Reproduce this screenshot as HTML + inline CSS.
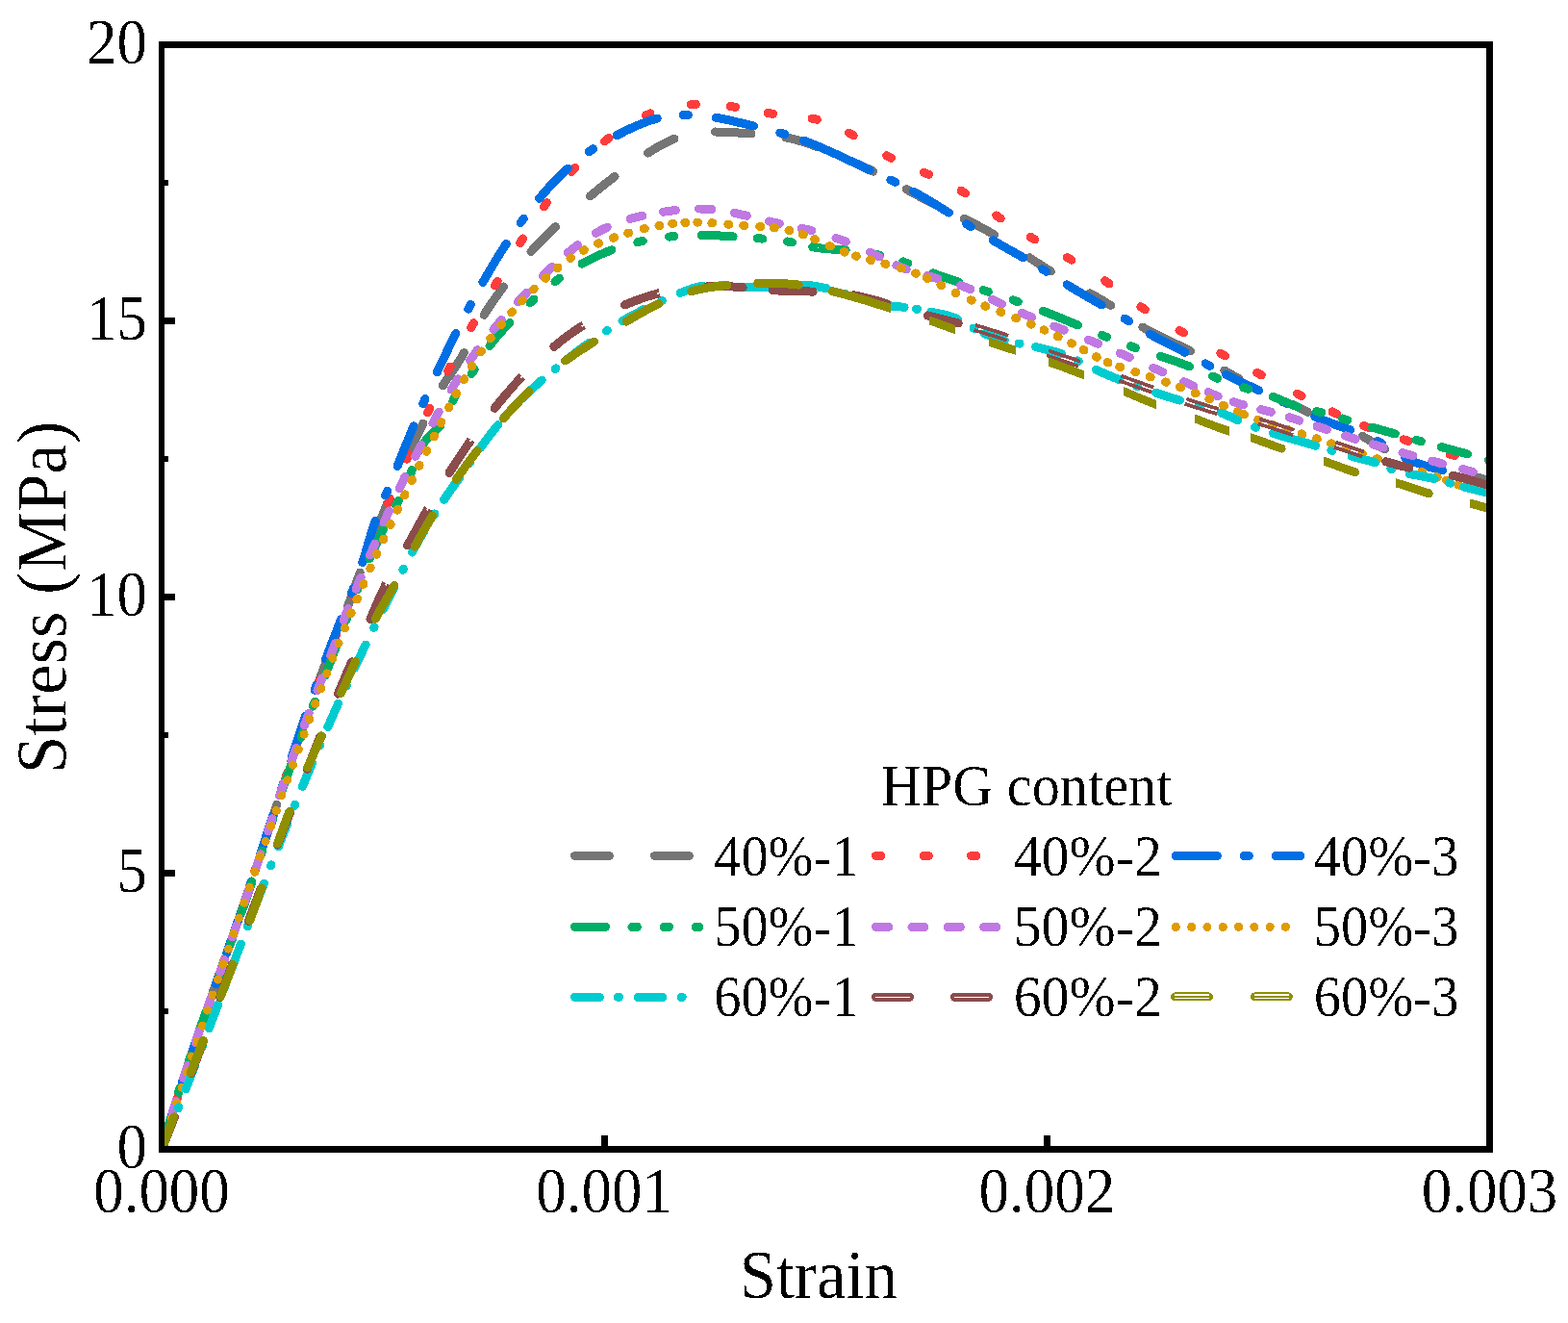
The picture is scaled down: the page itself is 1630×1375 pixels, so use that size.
<!DOCTYPE html>
<html lang="en">
<head>
<meta charset="utf-8">
<title>Stress-strain curves by HPG content</title>
<style>
html,body{margin:0;padding:0;background:#fff;}
body{width:1630px;height:1375px;overflow:hidden;}
svg{display:block;}
svg text{font-family:"Liberation Serif", serif;fill:#000;}
</style>
</head>
<body>
<svg width="1630" height="1375" viewBox="0 0 1630 1375">
<rect width="1630" height="1375" fill="#fff"/>
<clipPath id="plot"><rect x="168" y="46" width="1377.00" height="1148.00"/></clipPath>
<g clip-path="url(#plot)" fill="none" stroke-linecap="round" stroke-linejoin="round" shape-rendering="crispEdges">
<path d="M168.2 1194.5L169.9 1188.6L171.6 1182.7L173.3 1176.8L175.1 1170.8L176.9 1165.0L178.7 1159.1M193.3 1113.1L195.2 1107.3L197.2 1101.4L199.1 1095.6L201.1 1089.7L203.1 1083.9L205.1 1078.1M220.9 1032.5L222.9 1026.7L225.0 1020.9L227.0 1015.1L229.1 1009.3L231.1 1003.5L233.2 997.7M249.1 952.1L251.1 946.3L253.1 940.5L255.1 934.7L257.1 928.8L259.1 923.0L261.1 917.2M276.3 871.4L278.2 865.6L280.2 859.7L282.1 853.9L284.0 848.0L285.9 842.2L287.8 836.3M302.9 790.5L304.9 784.7L306.9 778.8L308.8 773.0L310.8 767.1L312.8 761.3L314.8 755.5M330.8 710.0L332.9 704.2L335.1 698.4L337.2 692.7L339.4 686.9L341.6 681.2L343.8 675.4M361.4 630.5L363.6 624.6L365.8 618.7L367.9 612.8L370.0 606.8L372.1 600.9L374.2 595.0M389.1 556.8L391.4 551.0L393.7 545.3L396.1 539.6L398.4 533.8L400.7 528.1L403.0 522.4M424.2 471.7L426.7 466.3L429.2 461.0L431.9 455.8L434.6 450.6L437.3 445.3L439.9 440.1M460.3 400.8L463.4 395.9L466.7 391.1L470.0 386.3L473.2 381.5L476.4 376.6L479.5 371.7L482.4 366.6M503.2 327.3L506.3 322.3L509.6 317.3L513.0 312.4L516.4 307.6L519.9 302.8L523.4 298.0M552.0 261.5L556.0 257.1L560.2 252.7L564.4 248.4L568.7 244.1L573.0 239.9L577.4 235.7M613.5 203.8L618.6 199.7L623.7 195.5L628.8 191.4L633.9 187.4L639.1 183.4M673.5 159.1L678.8 155.8L684.2 152.5L689.7 149.5L695.3 146.7L701.0 144.2M743.6 137.0L749.9 137.1L756.1 137.3L762.4 137.6L768.6 138.1L774.8 138.5L781.0 139.0M816.9 142.9L822.6 144.1L828.3 145.5L833.9 147.2L839.5 149.0L844.9 150.9L850.4 153.0M878.1 164.6L884.0 167.2L890.0 169.8L896.0 172.5L901.9 175.2L907.7 178.1M942.4 196.7L947.8 199.8L953.2 202.7L958.7 205.7L964.2 208.6L969.8 211.4L975.3 214.2M1002.1 227.2L1007.4 229.9L1012.7 232.6L1018.0 235.3L1023.2 238.1L1028.4 241.0L1033.6 244.0M1070.3 267.8L1075.7 271.4L1081.2 275.0L1086.7 278.5L1092.3 282.0M1133.1 304.8L1138.6 307.9L1144.0 311.0L1149.3 314.2L1154.6 317.5M1187.9 340.1L1193.3 343.1L1198.7 346.1L1204.3 348.9L1209.8 351.6L1215.4 354.2L1221.0 356.9L1226.6 359.5L1232.2 362.2L1237.7 365.0M1272.8 385.0L1277.7 387.9L1282.7 390.7L1287.6 393.5M1344.5 420.7L1349.5 423.2L1354.5 425.8L1359.5 428.4M1416.1 453.2L1420.8 455.9L1425.4 458.6L1430.1 461.4L1434.8 464.1L1439.5 466.7M1535.6 496.0L1541.6 497.7L1547.6 499.5L1553.6 501.3L1559.6 503.0" stroke="#757575" stroke-width="9.0"/>
<path d="M168.2 1194.5L169.7 1189.3M182.9 1145.9L184.6 1140.7M198.7 1097.6L200.4 1092.4M215.1 1049.5L216.9 1044.3M231.9 1001.5L233.7 996.4M248.6 953.5L250.4 948.4M264.9 905.4L266.7 900.2M280.9 857.2L282.6 852.0M296.8 808.9L298.5 803.7M313.1 760.8L314.9 755.6M329.9 712.8L331.8 707.7M347.4 665.1L349.3 660.0M365.4 617.6L367.4 612.5M384.0 570.3L386.0 565.2M403.3 523.2L405.3 518.3M422.8 477.2L424.9 472.4M444.6 429.0L446.9 424.2M465.7 385.7L468.1 381.0M489.8 340.5L492.4 335.8M514.5 296.9L517.1 292.3M540.7 252.5L543.5 248.0M565.3 214.9L568.4 210.6M594.0 178.4L597.6 174.5M628.5 146.8L632.8 143.6M671.2 120.0L676.0 117.9M718.1 108.7L723.4 108.4M759.3 110.5L764.6 111.3M798.2 117.6L803.5 118.3M844.2 123.1L849.3 124.3M882.6 138.2L887.2 140.8M921.8 161.7L926.5 164.2M960.6 179.3L965.5 181.4M999.1 198.2L1003.6 201.0M1035.7 224.0L1040.1 227.0M1071.2 246.3L1075.8 249.0M1109.3 267.6L1113.9 270.2M1148.6 291.8L1153.0 294.9M1185.9 318.7L1190.3 321.7M1226.0 343.4L1230.6 346.0M1268.8 367.2L1273.4 369.8M1306.7 387.5L1311.3 389.9M1348.4 409.1L1353.1 411.6M1385.0 427.9L1389.8 430.2M1417.8 442.6L1422.8 444.5M1459.1 456.8L1464.2 458.4M1507.1 472.0L1512.2 473.5" stroke="#FF3C3C" stroke-width="9.0"/>
<path d="M168.2 1194.5L169.9 1188.4L171.7 1182.3L173.5 1176.2L175.3 1170.1L177.1 1164.0L179.0 1157.9L180.9 1151.8M189.6 1124.3L191.3 1119.1M200.3 1092.0L202.4 1086.0L204.4 1079.9L206.5 1073.9L208.6 1067.9L210.7 1061.9L212.7 1055.9L214.8 1049.9M224.4 1022.7L226.2 1017.5M235.7 990.5L237.8 984.5L239.9 978.5L242.0 972.5L244.1 966.5L246.2 960.5L248.3 954.5L250.4 948.5M259.6 921.2L261.4 916.0M270.3 888.9L272.3 882.8L274.3 876.8L276.2 870.7L278.2 864.6L280.2 858.6L282.1 852.5L284.1 846.5M292.9 819.1L294.6 813.8M303.4 786.6L305.4 780.6L307.4 774.5L309.4 768.5L311.4 762.5L313.4 756.4L315.5 750.4L317.5 744.4M327.0 717.2L328.8 712.0M338.6 685.1L340.8 679.2L343.1 673.2L345.4 667.3L347.7 661.3L350.0 655.4L352.3 649.5L354.7 643.6M365.3 616.8L367.3 611.7M376.8 584.7L378.5 579.3L380.1 573.9L381.7 568.5L383.3 563.1L384.9 557.7L386.6 552.3L388.4 546.9L390.2 541.6M400.7 515.0L402.8 510.1M413.1 484.5L415.5 478.6L417.9 472.6L420.3 466.6L422.7 460.7L425.1 454.7L427.5 448.8L430.0 442.8M439.8 419.5L441.9 414.6M454.3 387.0L456.7 381.9L459.1 376.8L461.5 371.7L464.0 366.6L466.4 361.6L468.9 356.5L471.4 351.4L473.9 346.4M486.8 321.2L489.3 316.5M501.9 293.5L504.8 288.4L507.8 283.3L510.7 278.3L513.8 273.2L516.8 268.2L519.9 263.2L523.1 258.3L526.2 253.4M541.2 231.5L544.3 227.2M560.6 206.2L564.6 201.5L568.7 196.9L572.8 192.3L577.0 187.9L581.3 183.5L585.8 179.2L590.3 175.0M612.2 157.7L616.6 154.7M641.0 140.8L646.1 138.2L651.2 135.6L656.4 133.1L661.6 130.8L666.9 128.6L672.2 126.5L677.7 124.7L683.2 123.2M710.0 119.4L715.3 119.4M744.3 122.3L750.0 123.3L755.6 124.4L761.2 125.7L766.8 127.0L772.4 128.3L778.0 129.7L783.6 131.0M810.9 138.0L816.0 139.4M835.3 146.0L840.7 148.1L846.1 150.2L851.5 152.5L856.8 154.8L862.1 157.1L867.4 159.5L872.7 161.9L878.0 164.4L883.2 166.9L888.5 169.4L893.7 171.9L899.0 174.4L904.2 176.9M925.9 187.1L930.6 189.5M949.3 199.0L954.7 202.0L960.1 205.1L965.4 208.2L970.7 211.4L975.9 214.6L981.2 217.9L986.4 221.1M1004.7 232.8L1009.2 235.6M1032.1 249.7L1037.4 252.8L1042.7 255.8L1047.9 258.8L1053.2 261.8L1058.5 264.8L1063.8 267.8M1083.5 279.5L1088.0 282.3M1109.3 295.9L1114.4 299.0L1119.5 302.1L1124.6 305.1L1129.8 308.1L1134.9 311.1L1140.1 314.1L1145.3 317.0M1169.2 331.1L1173.7 333.9M1195.3 347.1L1200.4 350.0L1205.6 352.8L1210.9 355.5L1216.2 358.2L1221.4 360.9L1226.7 363.5L1232.0 366.3M1253.1 377.8L1257.7 380.3M1274.5 389.3L1280.2 392.2L1285.8 395.0L1291.5 397.7L1297.2 400.4L1302.9 403.1L1308.6 405.8M1332.9 417.2L1337.7 419.5M1366.8 433.1L1372.0 435.2L1377.2 437.3L1382.5 439.3L1387.9 441.3L1393.2 443.2L1398.5 445.1L1403.8 447.0M1431.8 458.5L1436.5 461.0M1460.7 475.8L1466.0 478.3L1471.5 480.6L1477.0 482.6L1482.6 484.4L1488.3 486.0L1494.0 487.5L1499.7 488.9" stroke="#006FE3" stroke-width="9.0"/>
<path d="M168.2 1194.5L169.6 1189.2L171.1 1183.9L172.6 1178.5L174.1 1173.2L175.7 1167.9L177.2 1162.6M185.6 1135.5L187.3 1130.1M196.3 1102.8L198.1 1097.6M207.5 1070.4L209.3 1065.2L211.2 1060.0L213.0 1054.8L214.9 1049.6L216.7 1044.4L218.6 1039.2M228.2 1012.5L230.1 1007.2M239.9 980.1L241.7 974.9M251.3 947.8L253.1 942.6L254.9 937.4L256.7 932.1L258.5 926.9L260.3 921.7L262.0 916.5M271.0 889.5L272.7 884.1M281.7 856.8L283.4 851.6M292.5 824.3L294.2 819.0L296.0 813.8L297.8 808.6L299.6 803.4L301.4 798.2L303.3 793.0M313.0 766.3L315.0 761.0M325.3 734.2L327.3 729.0M337.8 702.2L339.8 697.1L341.8 692.0L343.8 686.8L345.8 681.7L347.8 676.5L349.8 671.4M359.7 644.8L361.6 639.4M371.6 612.5L373.6 607.3M384.3 580.6L386.6 575.4L388.9 570.2L391.3 565.0L393.7 559.9L396.3 554.7L398.8 549.7M411.8 525.2L414.2 520.4M426.3 493.7L428.3 488.6M436.4 468.3L439.0 463.3L442.0 458.5L445.4 454.1L449.4 450.1L453.7 446.5L457.8 442.7M470.9 416.6L473.3 411.8M490.1 388.5L493.2 384.1M509.0 359.4L512.9 354.3L516.9 349.4L521.2 344.6L525.5 340.0L530.0 335.4M551.0 314.8L555.0 311.1M577.0 292.7L581.3 289.4M605.0 274.1L609.9 271.4L615.0 268.8L620.1 266.4L625.2 264.1L630.5 261.9L635.8 259.9M662.9 251.7L668.2 250.5M695.5 246.1L700.9 245.6M729.1 244.5L734.6 244.6L740.1 244.7L745.6 244.9L751.1 245.1L756.6 245.4L762.1 245.8M787.4 247.7L792.8 248.1M818.3 251.0L823.6 252.0M844.8 256.7L850.5 257.6L856.2 258.3L861.9 258.8L867.7 259.3L873.5 259.6L879.2 260.0M909.7 264.1L914.9 265.2M938.6 271.9L943.7 273.7M969.9 283.9L975.1 285.9L980.4 287.8L985.7 289.6L991.1 291.4L996.4 293.2M1022.1 301.6L1027.3 303.3M1053.1 311.9L1058.2 313.7M1084.2 323.2L1089.4 325.3L1094.7 327.3L1099.9 329.4L1105.1 331.6L1110.3 333.7L1115.4 335.9L1120.6 338.0M1145.6 348.4L1150.6 350.4M1175.4 359.8L1180.5 361.6M1206.5 370.3L1212.5 372.3L1218.5 374.3L1224.5 376.4L1230.5 378.6L1236.4 380.9M1260.7 391.1L1265.7 393.2M1292.7 402.8L1297.8 404.3M1323.2 412.2L1328.3 414.3L1333.4 416.6L1338.5 418.8L1343.7 420.9L1348.9 422.9M1368.6 427.6L1373.9 428.8M1395.5 435.0L1400.6 436.6M1426.3 444.1L1432.3 445.8L1438.3 447.5L1444.3 449.2L1450.3 451.0M1472.2 457.3L1477.4 458.7M1498.4 464.6L1503.8 466.0L1509.2 467.5L1514.6 469.0L1520.0 470.4L1525.4 471.9M1547.4 478.1L1552.6 479.6" stroke="#00AE65" stroke-width="9.0"/>
<path d="M168.2 1194.5L170.0 1188.0L171.9 1181.4M179.0 1157.3L181.0 1150.8L183.0 1144.3M190.7 1120.4L192.9 1113.9L195.0 1107.5M203.1 1083.6L205.3 1077.2L207.5 1070.8M215.9 1047.1L218.1 1040.7L220.4 1034.3M228.8 1010.5L231.1 1004.1L233.4 997.8M241.7 974.0L244.0 967.6L246.2 961.2M254.4 937.4L256.6 931.0L258.8 924.6M266.7 900.7L268.8 894.2L270.9 887.8M278.7 863.8L280.8 857.4L282.9 850.9M290.7 827.0L292.9 820.5L295.0 814.1M303.2 790.3L305.5 783.9L307.7 777.5M316.4 753.8L318.7 747.5L321.1 741.1M330.0 717.6L332.4 711.2L334.8 704.9M343.7 681.3L346.1 675.0L348.5 668.6M357.2 644.8L359.5 638.6L361.9 632.5M370.1 612.2L372.6 606.1L375.1 600.1M384.7 577.0L387.2 571.0L389.8 565.0M399.1 543.0L401.8 537.0L404.4 531.0M415.2 507.5L418.1 501.6L420.9 495.7M431.7 474.2L434.7 468.4L437.8 462.6M449.9 439.7L453.0 434.0L456.2 428.2M469.2 405.0L472.5 399.4L476.0 393.8M488.7 374.5L492.5 369.2L496.3 363.8M512.9 342.5L517.1 337.5L521.4 332.5M538.6 313.7L543.1 308.9L547.6 304.1M564.4 286.8L569.0 282.2L573.7 277.6M590.3 262.8L595.4 258.7L600.6 254.7M619.5 242.2L625.3 239.1L631.2 236.2M655.1 227.4L661.4 225.7L667.8 224.2M689.6 220.2L696.0 219.3L702.5 218.5M726.7 217.0L733.3 217.1L739.8 217.6M763.5 221.4L769.9 222.8L776.3 224.3M799.5 230.0L804.9 231.3L810.3 232.4M833.3 237.2L838.7 238.4L844.0 239.7M869.0 247.4L874.2 249.3L879.3 251.2M904.4 262.1L909.3 264.5L914.2 267.0M931.9 275.7L937.0 277.9L942.1 279.9M964.0 286.7L969.3 288.1L974.6 289.5M998.7 296.7L1003.8 298.6L1008.9 300.7M1031.4 311.3L1036.4 313.7L1041.4 316.0M1062.4 325.4L1067.5 327.6L1072.6 329.7M1095.9 339.1L1101.0 341.1L1106.1 343.1M1131.3 353.1L1136.3 355.2L1141.4 357.3M1164.2 367.0L1169.3 369.2L1174.3 371.4M1198.8 382.3L1203.8 384.5L1208.8 386.8M1230.8 396.7L1235.9 398.9L1240.9 401.2M1256.0 407.7L1261.0 409.8L1266.1 411.8M1282.2 417.7L1287.5 419.3L1292.7 420.9M1310.7 425.6L1316.0 426.9L1321.3 428.3M1340.3 433.8L1345.5 435.4L1350.8 437.1M1369.0 443.0L1374.2 444.7L1379.4 446.5M1398.6 452.9L1403.8 454.7L1409.1 456.3M1427.3 461.9L1432.6 463.5L1437.9 465.0M1458.0 470.7L1463.4 472.2L1468.7 473.6M1488.8 479.0L1494.1 480.5L1499.4 481.9M1520.6 487.6L1525.9 489.1L1531.2 490.5" stroke="#C078E2" stroke-width="9.0"/>
<path d="M168.2 1194.5L168.2 1194.4M173.4 1178.4L173.4 1178.3M178.6 1162.4L178.6 1162.3M183.8 1146.3L183.8 1146.2M189.1 1130.3L189.1 1130.2M194.3 1114.2L194.4 1114.1M199.6 1098.2L199.7 1098.1M204.9 1082.2L205.0 1082.1M210.3 1066.1L210.3 1066.0M215.6 1050.1L215.7 1050.0M221.0 1034.1L221.0 1034.0M226.4 1018.1L226.4 1018.0M231.8 1002.1L231.9 1002.0M237.3 986.1L237.3 986.0M242.7 970.2L242.8 970.1M248.2 954.2L248.3 954.1M253.7 938.2L253.8 938.1M259.3 922.3L259.3 922.2M264.8 906.3L264.9 906.2M270.4 890.4L270.5 890.3M276.0 874.5L276.1 874.4M281.7 858.6L281.7 858.5M287.3 842.6L287.4 842.5M293.0 826.7L293.0 826.6M298.7 810.9L298.8 810.8M304.5 795.0L304.5 794.9M310.2 779.1L310.3 779.0M316.0 763.2L316.1 763.1M321.9 747.4L321.9 747.3M327.8 731.6L327.8 731.5M333.7 715.8L333.8 715.7M339.8 700.0L339.8 699.9M345.9 684.3L345.9 684.2M352.1 668.6L352.1 668.5M358.4 652.9L358.5 652.8M364.7 637.7L365.1 636.8M370.9 623.0L371.3 622.1M377.6 607.4L378.0 606.5M384.8 590.9L385.2 590.0M391.4 576.3L391.8 575.4M398.5 560.9L398.9 560.0M405.7 545.5L406.1 544.6M413.0 530.1L413.5 529.2M420.5 514.8L420.9 513.9M428.0 499.6L428.5 498.7M435.6 484.3L436.1 483.4M443.3 469.2L443.8 468.3M451.1 454.0L451.5 453.1M458.3 439.7L458.8 438.8M466.6 423.7L467.0 422.8M474.0 409.6L474.5 408.7M482.2 394.7L482.7 393.8M490.3 380.9L490.8 380.1M499.9 365.8L500.5 365.0M509.7 351.9L510.3 351.1M520.8 337.6L521.4 336.9M531.8 324.7L532.4 323.9M542.5 312.9L543.2 312.2M554.5 300.9L555.2 300.2M566.9 289.3L567.7 288.6M579.2 278.8L580.0 278.2M592.9 268.6L593.7 268.0M606.5 260.3L607.4 259.8M621.7 253.1L622.6 252.7M637.5 247.2L638.5 246.8M652.8 242.3L653.8 242.0M669.3 237.8L670.2 237.6M685.0 234.5L685.9 234.4M698.8 232.5L699.8 232.4M711.8 231.4L712.8 231.4M724.8 231.1L725.8 231.1M739.8 231.7L740.8 231.8M756.8 233.1L757.8 233.2M772.8 234.4L773.8 234.5M789.7 235.4L790.7 235.5M804.4 236.7L805.4 236.8M820.0 239.4L820.9 239.6M834.3 243.6L835.3 243.9M846.6 248.5L847.5 248.9M862.4 255.6L863.3 256.0M877.2 261.8L878.2 262.1M889.4 266.0L890.3 266.3M904.6 270.2L905.5 270.5M919.9 274.2L920.9 274.4M936.3 278.7L937.2 279.0M951.4 284.0L952.3 284.3M963.5 289.1L964.4 289.5M977.9 296.4L978.8 296.8M993.0 304.3L993.9 304.7M1009.2 311.8L1010.1 312.2M1023.9 317.9L1024.8 318.3M1039.8 324.1L1040.7 324.5M1055.7 330.4L1056.6 330.8M1071.3 336.8L1072.2 337.2M1085.0 342.8L1085.9 343.2M1099.3 349.5L1100.2 350.0M1113.6 356.7L1114.5 357.1M1126.1 363.4L1127.0 363.9M1139.4 370.8L1140.3 371.3M1151.1 376.6L1152.0 377.0M1163.8 381.3L1164.8 381.6M1179.9 386.5L1180.8 386.8M1195.2 391.5L1196.1 391.8M1211.4 397.0L1212.4 397.3M1226.5 402.3L1227.4 402.7M1242.2 408.4L1243.1 408.7M1256.9 414.6L1257.8 415.0M1271.6 421.3L1272.5 421.7M1286.3 427.9L1287.2 428.3M1292.8 430.6L1293.7 431.0M1307.7 436.2L1308.6 436.6M1322.7 441.3L1323.7 441.6M1337.9 446.1L1338.9 446.4M1353.1 450.9L1354.0 451.2M1368.3 455.8L1369.3 456.2M1383.6 460.9L1384.6 461.3M1399.5 466.3L1400.5 466.6M1415.5 471.5L1416.4 471.8M1431.4 476.6L1432.4 476.9M1446.9 481.2L1447.8 481.5M1462.4 485.8L1463.3 486.0M1477.8 490.4L1478.7 490.7M1493.1 495.5L1494.1 495.8M1503.6 499.2L1504.5 499.6M1515.9 503.8L1516.9 504.2" stroke="#DE9C00" stroke-width="9.0"/>
<path d="M168.2 1194.5L170.7 1188.4L173.2 1182.2L175.6 1176.1L178.1 1169.9M185.3 1151.7L185.7 1150.7M193.1 1131.9L195.5 1125.7L197.9 1119.5L200.3 1113.3L202.6 1107.2M209.7 1088.9L210.1 1087.8M217.2 1068.9L219.6 1062.7L221.9 1056.6L224.3 1050.4L226.6 1044.2M233.5 1025.8L233.9 1024.8M241.1 1005.9L243.4 999.7L245.7 993.5L248.1 987.3L250.4 981.1M257.3 962.8L257.8 961.7M264.9 942.8L267.3 936.7L269.7 930.5L272.0 924.3L274.4 918.1M281.5 899.8L281.9 898.8M289.3 880.0L291.7 873.8L294.1 867.7L296.6 861.5L299.0 855.4M306.3 837.2L306.8 836.1M314.4 817.4L317.0 811.3L319.5 805.2L322.1 799.1L324.6 793.0M332.3 775.0L332.8 774.0M340.8 755.4L343.5 749.4L346.2 743.3L348.9 737.3L351.6 731.2M359.7 713.4L360.2 712.4M368.7 694.1L371.5 688.1L374.4 682.1L377.2 676.1L380.1 670.1M388.6 652.5L389.1 651.5M398.1 633.4L401.0 627.5L404.0 621.5L407.0 615.6L410.0 609.7M418.9 592.3L419.4 591.3M428.5 574.1L431.5 568.4L434.7 562.7L437.8 557.1L441.1 551.5M451.2 534.9L451.8 534.0M461.5 519.4L464.7 514.8L467.9 510.2L471.1 505.6L474.4 501.0L477.6 496.4M488.2 481.3L488.8 480.4M499.4 465.4L503.0 460.6L506.6 455.8L510.2 451.0L513.9 446.3L517.7 441.6M529.9 427.6L530.6 426.8M542.8 414.1L546.7 410.2L550.8 406.4L554.9 402.6L559.0 398.9L563.2 395.2M577.2 383.5L578.0 382.8M592.4 371.3L597.4 367.4L602.4 363.6L607.5 359.9L612.6 356.2M630.4 344.0L631.3 343.4M647.0 333.7L652.6 330.5L658.3 327.3L664.0 324.3L669.8 321.3M687.3 313.0L688.3 312.5M707.3 304.5L712.9 302.3L718.5 300.2L724.3 298.5L730.1 297.2M749.2 296.3L750.3 296.3M771.8 298.0L777.4 298.3L783.1 298.4L788.8 298.4L794.4 298.3L800.1 298.0M816.6 296.6L817.7 296.5M834.1 296.0L840.6 296.5L847.0 297.3L853.3 298.5L859.6 299.9M877.4 305.1L878.5 305.4M896.2 311.1L902.4 312.9L908.6 314.6L914.8 316.0L921.1 317.2L927.4 318.1L933.8 318.7L940.1 319.3M952.5 321.2L953.6 321.4M967.9 324.2L973.5 325.3L979.0 326.4L984.6 327.8L990.0 329.5L995.3 331.7M1012.0 341.1L1012.9 341.6M1023.5 346.7L1028.5 348.7L1033.7 350.5L1038.9 352.1L1044.2 353.6M1059.0 357.0L1060.1 357.2M1076.6 360.6L1082.0 361.9L1087.5 363.2L1092.9 364.6L1098.3 366.1L1103.6 367.9M1120.2 374.9L1121.2 375.4M1139.3 384.2L1145.4 387.0L1151.5 389.7L1157.7 392.3L1164.0 394.8M1181.6 401.4L1182.7 401.7M1201.6 408.2L1207.8 410.3L1214.0 412.3L1220.3 414.2L1226.6 416.1M1246.7 421.6L1247.8 421.9M1269.4 429.1L1275.3 431.5L1281.1 434.1L1286.9 436.8M1304.5 443.9L1305.6 444.3M1323.5 450.4L1329.0 452.1L1334.5 453.7L1340.0 455.3L1345.5 456.9L1351.0 458.5L1356.6 460.1L1362.1 461.6L1367.6 463.2M1383.9 468.1L1384.9 468.4M1405.0 474.3L1411.2 475.9L1417.4 477.4L1423.6 479.0L1429.7 480.9M1445.9 487.3L1446.9 487.7M1465.2 492.6L1471.8 493.8L1478.3 495.0L1484.8 496.2L1491.3 497.6M1506.8 501.8L1507.9 502.1M1521.9 506.0L1527.3 507.4L1532.7 508.8L1538.1 510.2L1543.5 511.6L1548.9 513.0L1554.3 514.4L1559.7 515.8" stroke="#00CCCF" stroke-width="9.0"/>
<path d="M168.2 1194.5L170.4 1188.9L172.6 1183.3L174.8 1177.7L177.0 1172.1L179.2 1166.5L181.4 1160.9M198.7 1115.6L200.9 1110.0L203.0 1104.4L205.2 1098.7L207.3 1093.1L209.4 1087.5L211.6 1081.8M228.6 1036.5L230.8 1030.8L232.9 1025.2L235.0 1019.5L237.1 1013.9L239.2 1008.3L241.3 1002.6M258.4 957.2L260.5 951.6L262.6 946.0L264.7 940.3L266.9 934.7L269.0 929.1L271.1 923.5M288.4 878.1L290.6 872.5L292.7 866.9L294.9 861.3L297.1 855.7L299.3 850.1L301.5 844.5M319.3 799.4L321.5 793.8L323.7 788.2L326.0 782.6L328.3 777.0L330.5 771.5L332.8 765.9M351.4 721.1L353.7 715.5L356.1 710.0L358.4 704.5L360.8 698.9L363.2 693.4L365.6 687.9M384.9 643.4L385.0 643.3M423.6 566.9L423.7 566.8M467.0 491.4L467.1 491.4M514.1 424.3L514.2 424.3M575.8 360.4L575.9 360.3M649.5 316.9L649.6 316.8M735.1 297.7L741.3 297.6L747.5 297.6L753.7 297.7L759.9 297.9L766.1 298.2L772.2 298.7M803.3 301.6L809.2 302.0L815.2 302.3L821.2 302.5L827.1 302.7L833.1 302.8L839.1 302.9L845.1 303.1M887.5 306.8L893.2 307.9L899.0 309.3L904.7 310.7L910.4 312.3L916.0 313.9L921.7 315.6M964.3 328.0L970.7 329.6L977.0 331.2L983.3 332.8L989.7 334.4L996.1 336.0M1440.7 479.7L1446.7 481.5L1452.7 483.2L1458.8 484.7L1464.9 486.1M1510.2 494.3L1515.7 495.6L1521.3 497.0L1526.8 498.5L1532.3 500.0L1537.8 501.6L1543.3 503.2L1548.8 504.7L1554.3 506.2L1559.8 507.6" stroke="#8B4C4C" stroke-width="9.0"/>
<path d="M384.9 643.4L387.4 637.6L390.0 631.7L392.5 625.9L395.1 620.0L397.8 614.2L400.6 608.5M423.6 566.9L426.5 561.7L429.4 556.5L432.3 551.3L435.1 546.1L438.0 540.9L440.8 535.8L443.7 530.6M467.0 491.4L470.5 486.0L474.0 480.6L477.5 475.2L481.0 469.9L484.6 464.6L488.3 459.3M514.1 424.3L517.8 419.7L521.6 415.2L525.4 410.6L529.3 406.2L533.2 401.7L537.1 397.3L541.2 393.0M575.8 360.4L580.4 356.6L585.1 352.9L589.9 349.3L594.7 345.8L599.6 342.5L604.6 339.2M649.5 316.9L655.0 314.7L660.6 312.5L666.2 310.5L671.8 308.6L677.5 306.8L683.2 305.2" stroke="#8B4C4C" stroke-width="9.0" stroke-linecap="butt"/>
<path d="M402.8 610.2L404.2 607.5M397.9 607.7L399.3 605.0M445.9 532.4L447.4 529.8M441.1 529.7L442.6 527.1M490.3 461.2L492.0 458.8M485.7 458.1L487.5 455.6M542.8 395.3L544.9 393.1M538.8 391.5L540.9 389.3M605.7 341.8L608.2 340.3M602.8 337.2L605.3 335.6M683.4 307.9L686.3 307.2M682.0 302.6L684.9 301.9M1012.5 343.1L1017.5 344.5L1022.4 346.0L1027.2 347.5L1032.1 349.0L1037.0 350.6L1041.8 352.2L1046.6 353.9M1014.0 337.9L1019.0 339.3L1023.9 340.8L1028.8 342.3L1033.8 343.9L1038.7 345.5L1043.5 347.1L1048.4 348.8M1088.2 369.4L1092.9 371.0L1097.6 372.7L1102.3 374.3L1107.0 375.9L1111.7 377.5L1116.4 379.1L1121.1 380.7M1090.0 364.3L1094.7 366.0L1099.3 367.6L1104.0 369.2L1108.7 370.8L1113.4 372.4L1118.2 374.0L1122.9 375.6M1163.4 395.6L1168.3 397.3L1173.1 399.1L1178.0 400.8L1182.8 402.5L1187.7 404.3L1192.5 406.0L1197.4 407.7M1165.2 390.5L1170.1 392.3L1174.9 394.0L1179.8 395.7L1184.6 397.4L1189.5 399.2L1194.3 400.9L1199.2 402.6M1231.6 419.6L1236.4 421.2L1241.2 422.8L1246.0 424.4L1250.8 425.9L1255.6 427.4L1260.4 428.8L1265.3 430.2M1233.4 414.5L1238.1 416.1L1242.9 417.7L1247.6 419.2L1252.4 420.7L1257.2 422.2L1261.9 423.6L1266.8 425.0M1307.6 440.5L1312.2 441.9L1316.7 443.2L1321.2 444.7L1325.8 446.1L1330.3 447.6L1334.8 449.1L1339.4 450.6L1344.0 452.1M1309.1 435.3L1313.7 436.7L1318.3 438.1L1322.9 439.5L1327.4 441.0L1332.0 442.5L1336.5 444.0L1341.1 445.5L1345.6 446.9M1386.8 464.8L1391.7 466.3L1396.6 468.0L1401.6 469.6L1406.5 471.3L1411.4 473.0L1416.3 474.6M1388.4 459.6L1393.4 461.2L1398.3 462.8L1403.3 464.5L1408.2 466.2L1413.1 467.8L1418.0 469.5" stroke="#8B4C4C" stroke-width="3.7" stroke-linecap="butt"/>
<path d="M168.2 1194.5L170.2 1188.9L172.3 1183.3L174.4 1177.7L176.5 1172.1L178.5 1166.5L180.7 1160.9M198.2 1115.0L200.4 1109.4L202.6 1103.9L204.7 1098.3L206.9 1092.7L209.1 1087.2L211.3 1081.6M229.2 1035.9L231.4 1030.3L233.6 1024.8L235.8 1019.2L237.9 1013.6L240.1 1008.1L242.2 1002.5M259.7 956.6L261.8 951.0L263.9 945.4L266.0 939.8L268.0 934.2L270.0 928.5L272.1 922.9M288.6 876.7L290.6 871.1L292.7 865.4L294.7 859.8L296.8 854.2L298.9 848.6L301.1 843.1M319.8 797.7L322.2 792.2L324.6 786.7L327.0 781.3L329.5 775.8L331.9 770.3L334.4 764.9M354.7 720.2L357.2 714.8L359.7 709.3L362.1 703.9L364.6 698.4L367.0 693.0L369.5 687.5M390.3 643.1L393.0 638.1L395.7 633.1L398.6 628.2L401.4 623.3L404.2 618.4L407.1 613.5L409.9 608.5M431.2 568.1L434.2 562.7L437.2 557.3L440.2 551.9L443.3 546.6L446.4 541.3L449.6 536.0M474.2 498.3L477.8 493.3L481.4 488.2L485.0 483.3L488.7 478.3L492.4 473.4L496.1 468.5M523.2 435.0L526.9 430.8L530.6 426.7L534.4 422.6L538.2 418.5L542.1 414.5L546.0 410.6L550.0 406.7M587.4 375.0L592.4 371.6L597.3 368.2L602.4 364.8L607.4 361.6L612.5 358.3L617.6 355.1M651.0 334.1L656.5 330.9L662.1 327.6L667.7 324.5L673.3 321.4L679.0 318.4L684.8 315.6M718.7 302.7L724.8 301.2L731.0 299.9L737.2 298.8L743.4 297.9L749.6 297.2L755.9 296.5M787.6 294.4L793.7 294.3L799.8 294.2L805.9 294.3L812.0 294.6L818.1 294.9L824.2 295.5L830.3 296.1M865.6 302.7L865.7 302.8M1332.0 466.0L1332.1 466.1M1408.3 490.7L1408.4 490.7M1485.1 512.7L1485.2 512.8M1559.6 531.9L1559.7 531.9" stroke="#8F8F00" stroke-width="9.0"/>
<path d="M865.6 298.1L870.3 299.3L874.9 300.5L879.6 301.8L884.2 303.1L888.8 304.4L893.4 305.8L898.1 307.1L902.7 308.5L907.3 310.0L911.8 311.4L916.4 312.8L921.0 314.3L925.6 315.7L925.6 324.9L921.0 323.5L916.4 322.0L911.8 320.6L907.3 319.2L902.7 317.7L898.1 316.3L893.4 315.0L888.8 313.6L884.2 312.3L879.6 311.0L874.9 309.7L870.3 308.5L865.6 307.3ZM965.8 328.4L970.4 329.9L975.0 331.5L979.5 333.2L984.1 334.8L988.7 336.5L993.3 338.2L993.3 347.4L988.7 345.7L984.1 344.0L979.5 342.4L975.0 340.7L970.4 339.1L965.8 337.6ZM1028.2 350.7L1032.8 352.3L1037.5 353.8L1042.2 355.3L1046.9 356.8L1051.6 358.3L1056.3 359.9L1056.3 369.1L1051.6 367.5L1046.9 366.0L1042.2 364.5L1037.5 363.0L1032.8 361.5L1028.2 359.9ZM1090.0 371.4L1094.7 373.1L1099.4 374.8L1104.1 376.5L1108.7 378.3L1113.4 380.0L1118.1 381.8L1122.7 383.6L1127.4 385.4L1127.4 394.6L1122.7 392.8L1118.1 391.0L1113.4 389.2L1108.7 387.5L1104.1 385.7L1099.4 384.0L1094.7 382.3L1090.0 380.6ZM1167.5 401.7L1172.4 403.8L1177.3 405.9L1182.3 408.0L1187.2 410.1L1192.1 412.1L1197.1 414.1L1202.1 416.0L1202.1 425.2L1197.1 423.3L1192.1 421.3L1187.2 419.3L1182.3 417.2L1177.3 415.1L1172.4 413.0L1167.5 410.9ZM1242.4 430.5L1246.8 432.1L1251.3 433.9L1255.7 435.6L1260.2 437.3L1264.6 439.0L1269.1 440.6L1273.6 442.2L1278.1 443.7L1278.1 452.9L1273.6 451.4L1269.1 449.8L1264.6 448.2L1260.2 446.5L1255.7 444.8L1251.3 443.1L1246.8 441.3L1242.4 439.7ZM1299.9 450.1L1304.5 451.6L1309.1 453.2L1313.7 454.8L1318.3 456.5L1322.9 458.2L1327.5 459.9L1332.1 461.5L1332.1 470.7L1327.5 469.1L1322.9 467.4L1318.3 465.7L1313.7 464.0L1309.1 462.4L1304.5 460.8L1299.9 459.3ZM1375.9 474.5L1380.5 476.1L1385.2 477.8L1389.8 479.5L1394.4 481.2L1399.1 482.9L1403.7 484.5L1408.4 486.1L1408.4 495.3L1403.7 493.7L1399.1 492.1L1394.4 490.4L1389.8 488.7L1385.2 487.0L1380.5 485.3L1375.9 483.7ZM1450.6 497.1L1455.6 498.6L1460.5 500.1L1465.5 501.7L1470.4 503.4L1475.3 505.0L1480.3 506.6L1485.2 508.2L1485.2 517.4L1480.3 515.8L1475.3 514.2L1470.4 512.6L1465.5 510.9L1460.5 509.3L1455.6 507.8L1450.6 506.3ZM1527.7 518.4L1532.3 519.6L1536.9 520.9L1541.4 522.2L1546.0 523.5L1550.5 524.8L1555.1 526.1L1559.7 527.3L1559.7 536.5L1555.1 535.3L1550.5 534.0L1546.0 532.7L1541.4 531.4L1536.9 530.1L1532.3 528.8L1527.7 527.6Z" fill="#8F8F00" stroke="none"/>
</g>
<g fill="#000" shape-rendering="crispEdges">
<path d="M165 43H1552V1198H165ZM171 50V1191H1545V50Z" fill-rule="evenodd"/>
<rect x="171" y="904.0" width="11" height="7"/>
<rect x="171" y="617.0" width="11" height="7"/>
<rect x="171" y="330.0" width="11" height="7"/>
<rect x="171" y="1048.0" width="4" height="6"/>
<rect x="171" y="761.0" width="4" height="6"/>
<rect x="171" y="474.0" width="4" height="6"/>
<rect x="171" y="187.0" width="4" height="6"/>
<rect x="625" y="1180" width="7" height="11"/>
<rect x="1085" y="1180" width="7" height="11"/>
</g>
<g fill="none" stroke-linecap="round" shape-rendering="crispEdges">
<path d="M597.5 889.5h129.3" stroke="#757575" stroke-width="9.0" stroke-dasharray="36 47"/>
<path d="M910.5 889.5h129.3" stroke="#FF3C3C" stroke-width="9.0" stroke-dasharray="5.3 44.2"/>
<path d="M1222.3 889.5h129.3" stroke="#006FE3" stroke-width="9.0" stroke-dasharray="43 27.8 5.3 27.6"/>
<path d="M597.5 963.4h129.3" stroke="#00AE65" stroke-width="9.0" stroke-dasharray="32 27.4 5.5 27.8 5.3 27.8"/>
<path d="M910.5 963.4h129.3" stroke="#C078E2" stroke-width="9.0" stroke-dasharray="13.1 24.3"/>
<path d="M1222.3 963.4h129.3" stroke="#DE9C00" stroke-width="9.0" stroke-dasharray="0.1 16.2"/>
<path d="M597.5 1036.4h129.3" stroke="#00CCCF" stroke-width="9.0" stroke-dasharray="25.8 19.1 1.1 19.7"/>
<path d="M910.5 1036.4h129.3" stroke="#8B4C4C" stroke-width="9.0" stroke-dasharray="35 47"/>
<path d="M910.5 1036.4h129.3" stroke="#fff" stroke-width="1.5" stroke-dasharray="35 47"/>
<path d="M1221.4 1035.9h129.3" stroke="#8F8F00" stroke-width="9.0" stroke-dasharray="35 47.9"/>
<path d="M1221.4 1034.0h129.3M1221.4 1037.8000000000002h129.3" stroke="#fff" stroke-width="1.2" stroke-dasharray="35 47.9"/>
</g>
<filter id="bw" x="-5%" y="-5%" width="110%" height="110%" color-interpolation-filters="sRGB"><feComponentTransfer><feFuncA type="discrete" tableValues="0 0 0 0 0 0 1 1 1 1"/></feComponentTransfer></filter>
<g filter="url(#bw)">
<text transform="translate(153.00 1214.10) scale(0.94 1)" font-size="67" text-anchor="end">0</text>
<text transform="translate(153.00 927.10) scale(0.94 1)" font-size="67" text-anchor="end">5</text>
<text transform="translate(153.00 640.10) scale(0.94 1)" font-size="67" text-anchor="end">10</text>
<text transform="translate(153.00 353.10) scale(0.94 1)" font-size="67" text-anchor="end">15</text>
<text transform="translate(153.00 66.10) scale(0.94 1)" font-size="67" text-anchor="end">20</text>
<text transform="translate(168.00 1260.30) scale(0.94 1)" font-size="67" text-anchor="middle">0.000</text>
<text transform="translate(628.17 1260.30) scale(0.94 1)" font-size="67" text-anchor="middle">0.001</text>
<text transform="translate(1088.33 1260.30) scale(0.94 1)" font-size="67" text-anchor="middle">0.002</text>
<text transform="translate(1548.50 1260.30) scale(0.94 1)" font-size="67" text-anchor="middle">0.003</text>
<text transform="translate(850.80 1348.90) scale(0.949 1)" font-size="72.5" text-anchor="middle">Strain</text>
<text transform="translate(68.50 621.00) rotate(-90) scale(0.94 1)" font-size="75" text-anchor="middle">Stress (MPa)</text>
<text transform="translate(1067.00 837.00) scale(0.94 1)" font-size="62" text-anchor="middle">HPG content</text>
<text transform="translate(742.20 909.60) scale(0.91 1)" font-size="62" text-anchor="start">40%-1</text>
<text transform="translate(1053.70 909.60) scale(0.933 1)" font-size="62" text-anchor="start">40%-2</text>
<text transform="translate(1365.70 909.60) scale(0.912 1)" font-size="62" text-anchor="start">40%-3</text>
<text transform="translate(742.20 983.20) scale(0.91 1)" font-size="62" text-anchor="start">50%-1</text>
<text transform="translate(1053.70 983.20) scale(0.933 1)" font-size="62" text-anchor="start">50%-2</text>
<text transform="translate(1365.70 983.20) scale(0.912 1)" font-size="62" text-anchor="start">50%-3</text>
<text transform="translate(742.20 1056.20) scale(0.91 1)" font-size="62" text-anchor="start">60%-1</text>
<text transform="translate(1053.70 1056.20) scale(0.933 1)" font-size="62" text-anchor="start">60%-2</text>
<text transform="translate(1365.70 1056.20) scale(0.912 1)" font-size="62" text-anchor="start">60%-3</text>
</g>
</svg>
</body>
</html>
